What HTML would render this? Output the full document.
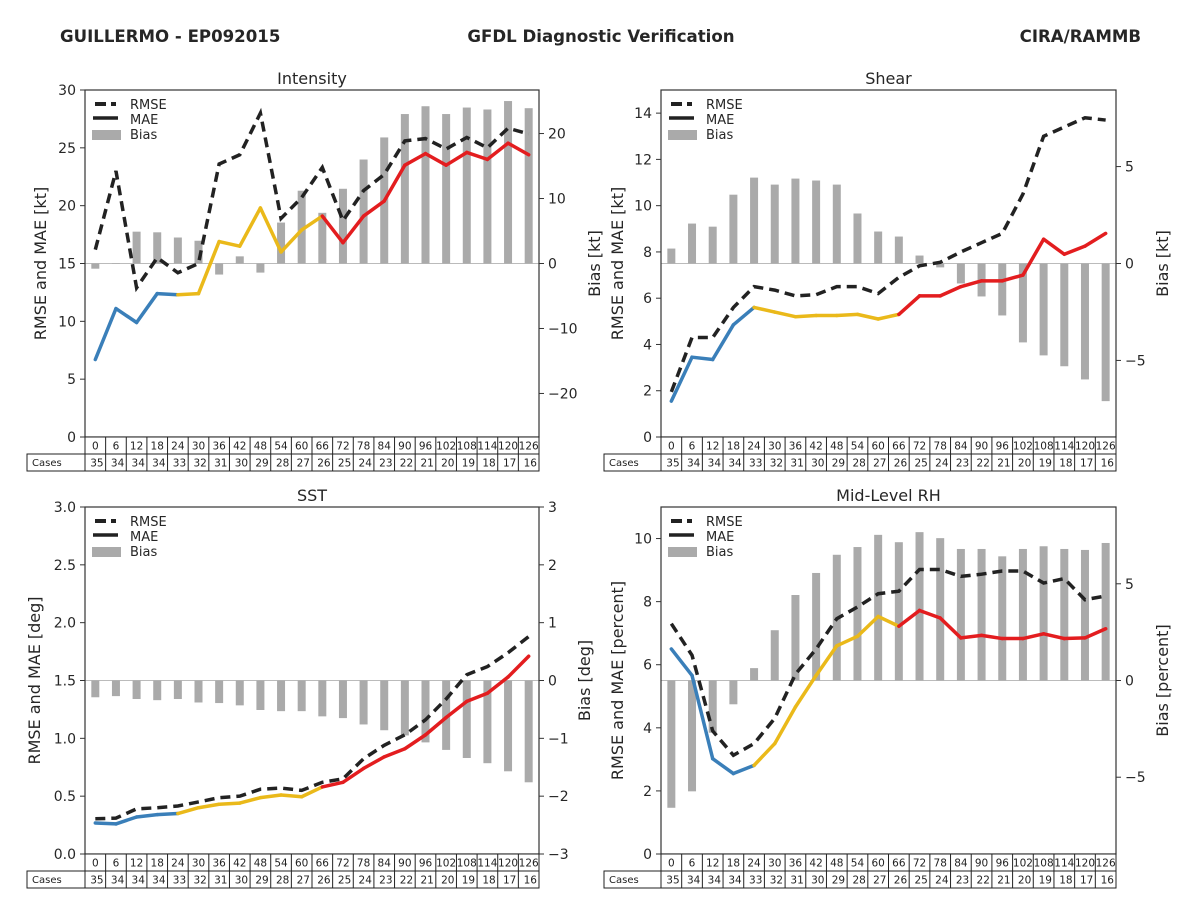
<!DOCTYPE html>
<html><head><meta charset="utf-8"><style>
body{margin:0;background:#fff;}
svg{display:block;font-family:"DejaVu Sans","Liberation Sans",sans-serif;}
</style></head><body>
<svg id="fig" width="1200" height="900" viewBox="0 0 1200 900" xmlns="http://www.w3.org/2000/svg">
<rect width="1200" height="900" fill="#fff"/>
<text x="60" y="42" font-size="16.6" font-weight="bold" fill="#262626">GUILLERMO - EP092015</text>
<text x="601" y="42" font-size="16.6" font-weight="bold" fill="#262626" text-anchor="middle">GFDL Diagnostic Verification</text>
<text x="1141" y="42" font-size="16.6" font-weight="bold" fill="#262626" text-anchor="end">CIRA/RAMMB</text>
</svg>
<script>
const hours=[0,6,12,18,24,30,36,42,48,54,60,66,72,78,84,90,96,102,108,114,120,126];
const cases=[35,34,34,34,33,32,31,30,29,28,27,26,25,24,23,22,21,20,19,18,17,16];
const intRmse=[16.2,23.0,12.9,15.5,14.2,15.0,23.6,24.4,28.0,18.9,20.7,23.3,18.7,21.3,22.7,25.6,25.8,24.9,25.9,25.0,26.7,26.2];
const intMae=[6.7,11.1,9.9,12.4,12.3,12.4,16.9,16.5,19.8,16.0,17.9,19.1,16.8,19.1,20.4,23.5,24.5,23.5,24.6,24.0,25.4,24.4];
const intBias=[-0.8,0,4.9,4.8,4.0,3.5,-1.7,1.1,-1.4,6.3,11.2,7.8,11.5,16.0,19.4,23.0,24.2,23.0,24.0,23.7,25.0,23.9];
const shrRmse=[1.95,4.3,4.3,5.6,6.5,6.35,6.1,6.15,6.5,6.5,6.2,6.9,7.4,7.55,8.0,8.4,8.8,10.5,13.0,13.4,13.8,13.7];
const shrMae=[1.55,3.45,3.35,4.85,5.6,5.4,5.2,5.25,5.25,5.3,5.1,5.3,6.1,6.1,6.5,6.75,6.75,7.0,8.55,7.9,8.25,8.8];
const shrBias=[0.77,2.06,1.9,3.55,4.43,4.07,4.38,4.28,4.07,2.58,1.65,1.39,0.41,-0.2,-1.03,-1.7,-2.68,-4.07,-4.74,-5.3,-5.98,-7.1];
const sstRmse=[0.305,0.31,0.39,0.40,0.415,0.45,0.487,0.50,0.56,0.57,0.55,0.62,0.65,0.824,0.94,1.03,1.16,1.34,1.55,1.62,1.74,1.88];
const sstMae=[0.268,0.26,0.32,0.34,0.35,0.40,0.43,0.44,0.487,0.51,0.495,0.58,0.62,0.74,0.84,0.91,1.03,1.18,1.32,1.39,1.53,1.71];
const sstBias=[-0.29,-0.27,-0.32,-0.34,-0.32,-0.38,-0.39,-0.43,-0.51,-0.53,-0.53,-0.62,-0.65,-0.76,-0.86,-0.95,-1.07,-1.2,-1.34,-1.43,-1.57,-1.76];
const rhRmse=[7.3,6.3,3.9,3.13,3.5,4.3,5.7,6.5,7.46,7.83,8.25,8.33,9.02,9.02,8.8,8.87,8.97,8.97,8.59,8.73,8.06,8.18];
const rhMae=[6.5,5.66,3.02,2.55,2.81,3.5,4.66,5.66,6.6,6.9,7.53,7.22,7.72,7.48,6.85,6.93,6.83,6.83,6.98,6.83,6.85,7.14];
const rhBias=[-6.58,-5.73,-2.7,-1.23,0.64,2.6,4.42,5.56,6.5,6.9,7.53,7.15,7.67,7.36,6.8,6.8,6.42,6.8,6.94,6.8,6.75,7.11];
const intLeftTicks=[0,5,10,15,20,25,30];
const intRightTicks=[-20,-10,0,10,20];
const shrLeftTicks=[0,2,4,6,8,10,12,14];
const shrRightTicks=[-5,0,5];
const sstLeftTicks=[0,0.5,1,1.5,2,2.5,3];
const sstRightTicks=[-3,-2,-1,0,1,2,3];
const rhLeftTicks=[0,2,4,6,8,10];
const rhRightTicks=[-5,0,5];

const NS='http://www.w3.org/2000/svg';
const fig=document.getElementById('fig');
function mk(tag,attrs,parent,txt){const e=document.createElementNS(NS,tag);for(const k in attrs)e.setAttribute(k,attrs[k]);if(txt!==undefined)e.textContent=txt;(parent||fig).appendChild(e);return e;}

const panels=[
 {key:'intensity',title:'Intensity',x0:85,x1:539,y0:90,y1:437,lmin:0,lmax:30,bmax:26.7,lt:intLeftTicks,rt:intRightTicks,fmt:v=>String(v),ylab:'RMSE and MAE [kt]',blab:'Bias [kt]',ylx:46,blx:600,casesX:27,rmse:intRmse,mae:intMae,bias:intBias},
 {key:'shear',title:'Shear',x0:661,x1:1116,y0:90,y1:437,lmin:0,lmax:15,bmax:8.95,lt:shrLeftTicks,rt:shrRightTicks,fmt:v=>String(v),ylab:'RMSE and MAE [kt]',blab:'Bias [kt]',ylx:623,blx:1168,casesX:604,rmse:shrRmse,mae:shrMae,bias:shrBias},
 {key:'sst',title:'SST',x0:85,x1:539,y0:507,y1:854,lmin:0,lmax:3,bmax:3,lt:sstLeftTicks,rt:sstRightTicks,fmt:v=>v.toFixed(1),ylab:'RMSE and MAE [deg]',blab:'Bias [deg]',ylx:40,blx:590,casesX:27,rmse:sstRmse,mae:sstMae,bias:sstBias},
 {key:'mid-level-rh',title:'Mid-Level RH',x0:661,x1:1116,y0:507,y1:854,lmin:0,lmax:11,bmax:8.97,lt:rhLeftTicks,rt:rhRightTicks,fmt:v=>String(v),ylab:'RMSE and MAE [percent]',blab:'Bias [percent]',ylx:623,blx:1168,casesX:604,rmse:rhRmse,mae:rhMae,bias:rhBias}
];
const col=i=>i<=4?'#3a7fb9':(i<=11?'#eab91a':'#e31d1f');

panels.forEach(p=>{
 const g=mk('g',{});
 
 
 const n=hours.length, cw=(p.x1-p.x0)/n;
 const xs=i=>p.x0+cw*(i+0.5);
 const yl=v=>p.y1-(v-p.lmin)/(p.lmax-p.lmin)*(p.y1-p.y0);
 const ym=(p.y0+p.y1)/2;
 const yb=v=>ym-v/p.bmax*(p.y1-p.y0)/2;
 const t=mk('text',{x:(p.x0+p.x1)/2,y:p.y0-6,'font-size':16,'text-anchor':'middle',fill:'#262626'},g,p.title);
 
 
 const z=mk('line',{x1:p.x0,x2:p.x1,y1:ym,y2:ym,stroke:'#bbb','stroke-width':1},g);
 
 
 p.bias.forEach((b,i)=>{
  const y=Math.min(yb(b),ym),h=Math.abs(yb(b)-ym);
  const r=mk('rect',{x:xs(i)-4,y:y,width:8,height:Math.max(h,0.5),fill:'#aaaaaa'},g);
  
  
 });
 const pts=p.rmse.map((v,i)=>xs(i)+','+yl(v)).join(' ');
 const rl=mk('polyline',{points:pts,fill:'none',stroke:'#222','stroke-width':3.5,'stroke-dasharray':'10 6'},g);
 
 
 for(let i=1;i<n;i++){
  const s=mk('line',{x1:xs(i-1),y1:yl(p.mae[i-1]),x2:xs(i),y2:yl(p.mae[i]),stroke:col(i),'stroke-width':3.5,'stroke-linecap':'round'},g);
  
  
 }
 const f=mk('rect',{x:p.x0,y:p.y0,width:p.x1-p.x0,height:p.y1-p.y0,fill:'none',stroke:'#333','stroke-width':1.2},g);
 
 
 p.lt.forEach(v=>{
  const y=yl(v);
  mk('line',{x1:p.x0-5,x2:p.x0,y1:y,y2:y,stroke:'#333'},g);
  const tl=mk('text',{x:p.x0-9,y:y+5,'font-size':14,'text-anchor':'end',fill:'#262626'},g,p.fmt(v));
  
  
 });
 p.rt.forEach(v=>{
  const y=yb(v);
  mk('line',{x1:p.x1,x2:p.x1+5,y1:y,y2:y,stroke:'#333'},g);
  const tl=mk('text',{x:p.x1+9,y:y+5,'font-size':14,fill:'#262626'},g,v<0?'\u2212'+(-v):String(v));
  
  
 });
 const a1=mk('text',{x:p.ylx,y:(p.y0+p.y1)/2,'font-size':16,'text-anchor':'middle',fill:'#262626',transform:`rotate(-90 ${p.ylx} ${(p.y0+p.y1)/2})`},g,p.ylab);
 
 
 const a2=mk('text',{x:p.blx,y:(p.y0+p.y1)/2,'font-size':16,'text-anchor':'middle',fill:'#262626',transform:`rotate(-90 ${p.blx} ${(p.y0+p.y1)/2})`},g,p.blab);
 
 
 const lx=p.x0+10,ly=p.y0+14;
 const lg=mk('g',{},g);
 
 
 mk('line',{x1:lx,x2:lx+23,y1:ly,y2:ly,stroke:'#222','stroke-width':4,'stroke-dasharray':'11 5 5 10'},lg);
 mk('text',{x:lx+35,y:ly+5,'font-size':13,fill:'#262626'},lg,'RMSE');
 mk('line',{x1:lx-2,x2:lx+23,y1:ly+14,y2:ly+14,stroke:'#222','stroke-width':3.5},lg);
 mk('text',{x:lx+35,y:ly+20,'font-size':13,fill:'#262626'},lg,'MAE');
 mk('rect',{x:lx-3,y:ly+26,width:29,height:10,fill:'#aaa'},lg);
 mk('text',{x:lx+35,y:ly+35,'font-size':13,fill:'#262626'},lg,'Bias');
 const tg=mk('g',{},g);
 
 
 const r0=p.y1,r1=p.y1+17,r2=p.y1+34;
 mk('rect',{x:p.x0,y:r0,width:p.x1-p.x0,height:17,fill:'#fff',stroke:'#222','stroke-width':1},tg);
 mk('rect',{x:p.casesX,y:r1,width:p.x1-p.casesX,height:17,fill:'#fff',stroke:'#222','stroke-width':1},tg);
 mk('line',{x1:p.x0,x2:p.x0,y1:r1,y2:r2,stroke:'#222'},tg);
 mk('text',{x:p.casesX+5,y:r1+12,'font-size':10,fill:'#222'},tg,'Cases');
 hours.forEach((h,i)=>{
  const cx=p.x0+cw*i;
  if(i>0)mk('line',{x1:cx,x2:cx,y1:r0,y2:r2,stroke:'#222'},tg);
  const hl=mk('text',{x:cx+cw/2,y:r0+12.5,'font-size':10.5,'text-anchor':'middle',fill:'#222'},tg,String(h));
  
  
  const cl=mk('text',{x:cx+cw-2,y:r1+12.5,'font-size':10.5,'text-anchor':'end',fill:'#222'},tg,String(cases[i]));
  
  
 });
});
</script>
</body></html>
